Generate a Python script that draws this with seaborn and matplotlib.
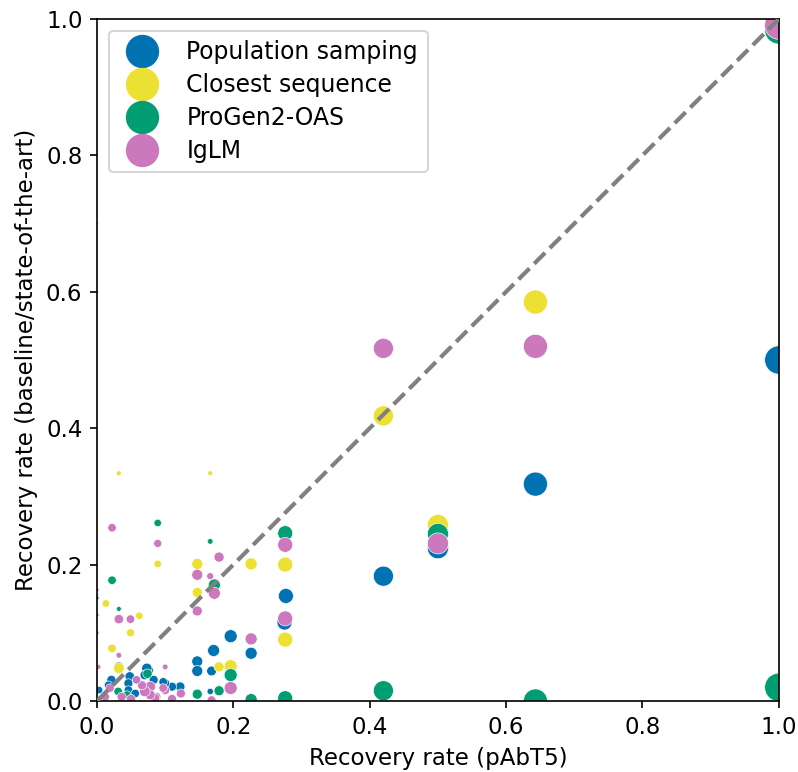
import numpy as np
import pandas as pd
import matplotlib
matplotlib.use("Agg")
import matplotlib.pyplot as plt
from matplotlib.lines import Line2D
import seaborn as sns

methods = ["Population samping", "Closest sequence", "ProGen2-OAS", "IgLM"]

# (x = pAbT5 recovery, y = other method recovery, w = relative weight -> marker area)
pop_x = [1.0, 0.643, 0.5, 0.42, 0.277, 0.275, 0.226, 0.196, 0.171, 0.147, 0.147, 0.168, 0.166,
         0.122, 0.11, 0.1, 0.097, 0.075, 0.073, 0.07, 0.083, 0.048, 0.046, 0.046, 0.056, 0.021,
         0.017, 0.003, 0.032, 0.0]
pop_y = [0.5, 0.318, 0.224, 0.183, 0.154, 0.115, 0.07, 0.095, 0.074, 0.058, 0.044, 0.044, 0.014,
         0.021, 0.021, 0.026, 0.028, 0.045, 0.048, 0.038, 0.031, 0.036, 0.026, 0.016, 0.011, 0.031,
         0.023, 0.016, 0.05, 0.155]
pop_w = [1.0, 0.72, 0.55, 0.5, 0.28, 0.28, 0.18, 0.21, 0.18, 0.15, 0.15, 0.12, 0.05,
         0.11, 0.1, 0.1, 0.09, 0.13, 0.13, 0.11, 0.1, 0.11, 0.1, 0.09, 0.09, 0.1,
         0.09, 0.07, 0.12, 0.01]

cs_x = [1.0, 0.643, 0.5, 0.42, 0.276, 0.276, 0.226, 0.196, 0.179, 0.172, 0.147, 0.147, 0.166,
        0.032, 0.089, 0.062, 0.049, 0.022, 0.013, 0.032, 0.0, 0.0, 0.0]
cs_y = [1.0, 0.585, 0.258, 0.418, 0.2, 0.09, 0.201, 0.051, 0.05, 0.16, 0.201, 0.159, 0.334,
        0.334, 0.201, 0.125, 0.1, 0.077, 0.143, 0.048, 0.666, 0.5, 0.25]
cs_w = [1.0, 0.72, 0.55, 0.5, 0.28, 0.28, 0.18, 0.21, 0.125, 0.18, 0.15, 0.125, 0.03,
        0.03, 0.07, 0.07, 0.08, 0.09, 0.07, 0.14, 0.01, 0.01, 0.01]

pg_x = [1.0, 1.0, 0.643, 0.5, 0.42, 0.276, 0.276, 0.226, 0.196, 0.179, 0.172, 0.166, 0.147,
        0.089, 0.022, 0.032, 0.074, 0.031, 0.044, 0.0, 0.0]
pg_y = [0.984, 0.02, 0.0, 0.245, 0.015, 0.246, 0.004, 0.002, 0.038, 0.015, 0.17, 0.234, 0.01,
        0.261, 0.177, 0.135, 0.04, 0.014, 0.009, 0.6, 0.151]
pg_w = [1.0, 1.0, 0.72, 0.55, 0.5, 0.28, 0.28, 0.18, 0.21, 0.125, 0.18, 0.04, 0.125,
        0.07, 0.09, 0.03, 0.11, 0.09, 0.08, 0.01, 0.02]

ig_x = [1.0, 0.643, 0.5, 0.42, 0.276, 0.276, 0.226, 0.196, 0.179, 0.172, 0.166, 0.147, 0.147,
        0.168, 0.123, 0.1, 0.1, 0.097, 0.089, 0.087, 0.085, 0.078, 0.078, 0.07, 0.066, 0.058,
        0.049, 0.032, 0.032, 0.022, 0.036, 0.019, 0.012, 0.05, 0.11, 0.002, 0.0, 0.0, 0.0, 0.0]
ig_y = [0.991, 0.52, 0.231, 0.517, 0.229, 0.121, 0.091, 0.019, 0.211, 0.158, 0.183, 0.185, 0.132,
        0.001, 0.011, 0.05, 0.016, 0.019, 0.231, 0.006, 0.004, 0.021, 0.009, 0.014, 0.023, 0.031,
        0.12, 0.12, 0.067, 0.254, 0.006, 0.019, 0.006, 0.003, 0.003, 0.05, 0.1, 0.126, 0.163, 0.7]
ig_w = [1.0, 0.72, 0.55, 0.5, 0.28, 0.28, 0.18, 0.21, 0.125, 0.18, 0.06, 0.15, 0.125,
        0.1, 0.1, 0.04, 0.1, 0.09, 0.08, 0.1, 0.11, 0.14, 0.12, 0.14, 0.1, 0.09,
        0.09, 0.11, 0.04, 0.09, 0.1, 0.09, 0.09, 0.1, 0.1, 0.03, 0.02, 0.02, 0.02, 0.01]

frames = []
for name, xs, ys, ws in zip(methods, [pop_x, cs_x, pg_x, ig_x], [pop_y, cs_y, pg_y, ig_y],
                            [pop_w, cs_w, pg_w, ig_w]):
    frames.append(pd.DataFrame({"pabt5": xs, "other": ys, "w": ws, "method": name}))
df = pd.concat(frames, ignore_index=True)

cb = sns.color_palette("colorblind")
colors = [cb[0], cb[8], cb[2], cb[4]]

plt.rcParams["font.size"] = 11
fig, ax = plt.subplots(figsize=(5.32, 5.1467), dpi=150)
fig.subplots_adjust(left=0.1216, right=0.976, top=0.9754, bottom=0.092)

sns.scatterplot(data=df, x="pabt5", y="other", hue="method", size="w", hue_order=methods,
                palette=colors, sizes=(0, 185), size_norm=(0, 1), linewidth=0.3,
                edgecolor="white", legend=False, ax=ax)
ax.plot([0, 1], [0, 1], ls="--", color="gray", lw=2, zorder=3)

ax.set_xlim(0, 1)
ax.set_ylim(0, 1)
ax.set_xlabel("Recovery rate (pAbT5)")
ax.set_ylabel("Recovery rate (baseline/state-of-the-art)")

handles = [Line2D([], [], marker="o", ls="", color=c, markersize=15, label=m)
           for c, m in zip(colors, methods)]
ax.legend(handles=handles, loc="upper left", fontsize=11.3, labelspacing=0.38,
          handletextpad=0.9)

fig.savefig("out.png", dpi=150)
